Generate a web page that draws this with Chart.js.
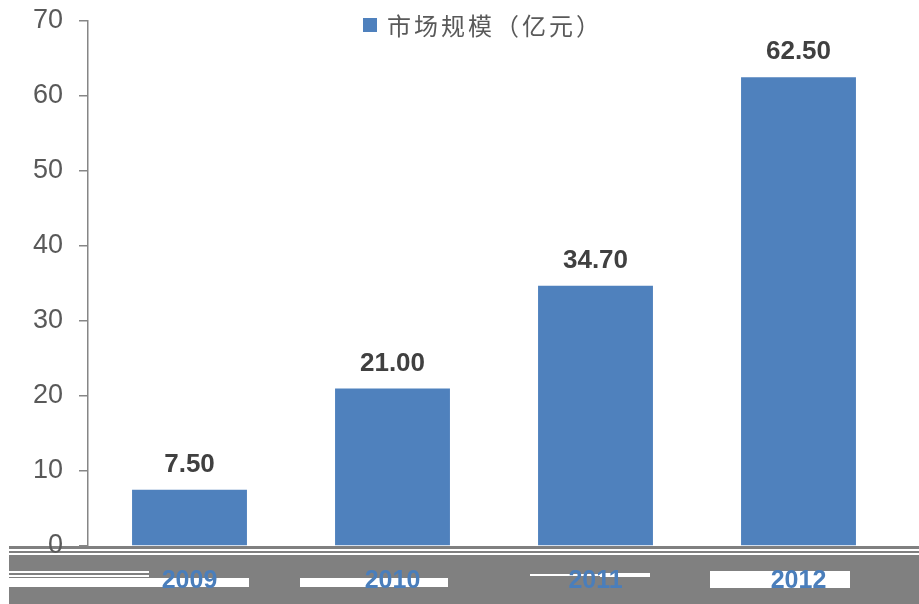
<!DOCTYPE html>
<html>
<head>
<meta charset="utf-8">
<script src="https://cdn.jsdelivr.net/npm/chart.js@4/dist/chart.umd.min.js"></script>
<style>
html,body{margin:0;padding:0;background:#fff;}
#wrap{width:919px;height:604px;position:relative;}
</style>
</head>
<body>
<div id="wrap"><canvas id="c" width="919" height="604"></canvas></div>
<script>
const categories = ["2009", "2010", "2011", "2012"];
const seriesName = "市场规模（亿元）";
const marketSize = [7.50, 21.00, 34.70, 62.50];
const yTicks = [0, 10, 20, 30, 40, 50, 60, 70];

const BAR = '#4f81bd';

const bandPlugin = {
  id: 'band',
  beforeDraw(chart) {
    const ctx = chart.ctx;
    ctx.save();
    ctx.fillStyle = '#fff';
    ctx.fillRect(0, 0, chart.width, chart.height);
    ctx.fillStyle = '#808080';
    ctx.fillRect(9, 546, 910, 58);
    ctx.fillStyle = '#ffffff';
    ctx.fillRect(9, 549, 910, 2);
    ctx.fillRect(9, 553, 910, 2);
    ctx.fillRect(9, 571, 140, 2);
    ctx.fillRect(9, 575, 140, 2);
    ctx.fillRect(9, 578, 240, 9);
    ctx.fillRect(300, 578, 148, 9);
    ctx.fillRect(530, 574, 110, 2);
    ctx.fillRect(600, 573, 50, 4);
    ctx.fillRect(710, 571, 140, 17);
    ctx.restore();
  }
};

const labelPlugin = {
  id: 'labels',
  afterDatasetsDraw(chart) {
    const ctx = chart.ctx;
    const meta = chart.getDatasetMeta(0);
    ctx.save();
    ctx.font = 'bold 26px "Liberation Sans", Arial, sans-serif';
    ctx.fillStyle = '#404040';
    ctx.textAlign = 'center';
    ctx.textBaseline = 'alphabetic';
    meta.data.forEach((bar, i) => {
      ctx.fillText(marketSize[i].toFixed(2), bar.x, bar.y - 18);
    });
    // legend
    ctx.fillStyle = BAR;
    ctx.fillRect(363, 18, 14, 14);
    ctx.fillStyle = '#595959';
    ctx.font = '24px "Noto Sans CJK SC", sans-serif';
    try { ctx.letterSpacing = '3px'; } catch (e) {}
    ctx.textAlign = 'left';
    ctx.textBaseline = 'middle';
    ctx.fillText(chart.data.datasets[0].label, 387, 26);
    ctx.restore();
  }
};

new Chart(document.getElementById('c'), {
  type: 'bar',
  data: {
    labels: categories,
    datasets: [{
      label: seriesName,
      data: marketSize,
      backgroundColor: BAR,
      borderWidth: 0,
      barPercentage: 0.566,
      categoryPercentage: 1.0
    }]
  },
  options: {
    responsive: false,
    animation: false,
    layout: { padding: { top: 21, right: 19, left: 0, bottom: 0 } },
    plugins: { legend: { display: false }, tooltip: { enabled: false } },
    scales: {
      x: {
        grid: { display: false },
        border: { display: false },
        ticks: {
          color: '#4a7ebb',
          font: { family: '"Liberation Sans", Arial, sans-serif', size: 25, weight: 'bold' },
          padding: 12,
          maxRotation: 0
        },
        afterFit(axis) { axis.height = 58; axis.paddingLeft = 0; axis.paddingRight = 0; }
      },
      y: {
        min: 0,
        max: 70,
        afterBuildTicks(axis) { axis.ticks = yTicks.map(v => ({ value: v })); },
        grid: { drawOnChartArea: false, drawTicks: true, tickLength: 9, color: '#868686', lineWidth: 1.5 },
        border: { display: true, color: '#868686', width: 1.5 },
        ticks: {
          color: '#595959',
          font: { family: '"Liberation Sans", Arial, sans-serif', size: 27 },
          padding: 16
        },
        afterFit(axis) { axis.width = 88; axis.paddingTop = 0; axis.paddingBottom = 0; }
      }
    }
  },
  plugins: [bandPlugin, labelPlugin]
});
</script>
</body>
</html>
